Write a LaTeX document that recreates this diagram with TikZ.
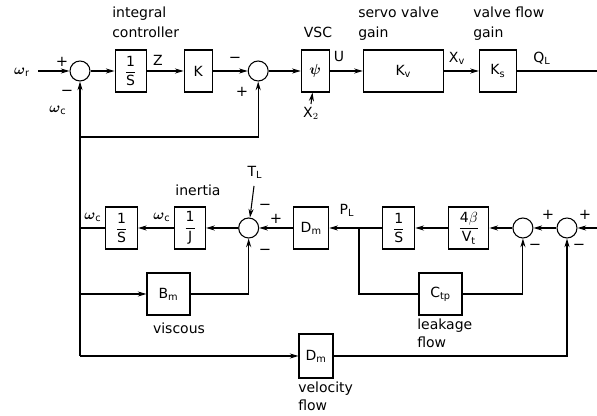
\documentclass[tikz,border=0pt]{standalone}
\usepackage{amsmath,amssymb}
\usepackage{fontspec}
\setmainfont{DejaVu Sans}
\usepackage{tikz}
\usetikzlibrary{positioning,arrows.meta,calc}

\begin{document}
\begin{tikzpicture}[x=0.75pt,y=-0.75pt,font=\fontsize{10.5}{15}\selectfont,
  blk/.style={draw=black,line width=0.8pt,minimum height=31.5pt,inner sep=1pt,fill=white},
  sm/.style={draw=black,line width=0.8pt,circle,minimum size=15pt,inner sep=0pt},
  ar/.style={-{Stealth[length=6.5pt,width=3.8pt]},line width=0.8pt},
  ln/.style={line width=0.8pt},
  lb/.style={inner sep=0pt},
  sg/.style={inner sep=0pt,font=\fontsize{11}{11}\selectfont},
  captxt/.style={inner sep=0pt,align=left,anchor=north west,font=\fontsize{10.5}{13.5}\selectfont}]
  \useasboundingbox (0,0) rectangle (597,416);
  % forward path: controller, VSC, valve
  \node[sm] (s1) at (80,71) {};
  \node[blk,minimum width=23.25pt,right=18pt of s1] (int) {$\dfrac{\text{1}}{\text{S}}$};
  \node[blk,minimum width=21pt,right=27.75pt of int] (k) {K};
  \node[sm,right=26.25pt of k] (s2) {};
  \node[blk,minimum width=21pt,right=24pt of s2] (vsc) {$\boldsymbol{\psi}$};
  \node[blk,minimum width=60pt,right=24.75pt of vsc] (kv) {K$_\text{v}$};
  \node[blk,minimum width=27.75pt,right=26.25pt of kv] (ks) {K$_\text{s}$};
  % motor and load, right to left
  \node[sm] (s5) at (567,228) {};
  \node[sm,left=17.25pt of s5] (s4) {};
  \node[blk,minimum width=30pt,left=17.25pt of s4] (bv) {$\dfrac{\text{4}\beta}{\text{V}_\text{t}}$};
  \node[blk,minimum width=24pt,left=24.75pt of bv] (int2) {$\dfrac{\text{1}}{\text{S}}$};
  \node[blk,minimum width=26.25pt,left=39.75pt of int2] (dm) {D$_\text{m}$};
  \node[sm,left=25.5pt of dm] (s3) {};
  \node[blk,minimum width=23.25pt,left=24pt of s3] (inv) {$\dfrac{\text{1}}{\text{J}}$};
  \node[blk,minimum width=24pt,left=27pt of inv] (int3) {$\dfrac{\text{1}}{\text{S}}$};
  \node[blk,minimum width=32.25pt] (bm) at (168.5,294) {B$_\text{m}$};
  \node[blk,minimum width=32.25pt] (ctp) at (440.5,294) {C$_\text{tp}$};
  \node[blk,minimum width=25.5pt,minimum height=33pt] (dm2) at (316,356) {D$_\text{m}$};
  % captions
  \node[captxt,font=\fontsize{10.5}{15}\selectfont] (lint) at (112,7) {integral\\controller};
  \node[lb] (lvsc) at (318,32) {VSC};
  \node[captxt,font=\fontsize{10.5}{15}\selectfont] (lkv) at (358,7) {servo valve\\gain};
  \node[captxt,font=\fontsize{10.5}{15}\selectfont] (lks) at (473,7) {valve flow\\gain};
  \node[lb] (lin) at (198,190) {inertia};
  \node[lb] (lvis) at (179,328) {viscous};
  \node[captxt] (lleak) at (417,319) {leakage\\flow};
  \node[captxt] (lvel) at (298,382) {velocity\\flow};
  % signals
  \node[lb] (wr) at (22,72) {$\boldsymbol{\omega}_\text{r}$};
  \node[lb] (wc1) at (58,110) {$\boldsymbol{\omega}_\text{c}$};
  \node[lb] (z) at (158,60) {Z};
  \node[lb] (u) at (339,57) {U};
  \node[lb] (xv) at (457,58) {X$_\text{v}$};
  \node[lb] (ql) at (542,58) {Q$_\text{L}$};
  \node[lb] (x2) at (311,113) {X$_2$};
  \node[lb] (tl) at (255,172) {T$_\text{L}$};
  \node[lb] (wc2) at (93,217) {$\boldsymbol{\omega}_\text{c}$};
  \node[lb] (wc3) at (162,217) {$\boldsymbol{\omega}_\text{c}$};
  \node[lb] (pl) at (347,210) {P$_\text{L}$};
  \node[sg] (p1) at (62,62) {+};
  \node[sg] (m1) at (67,93) {−};
  \node[sg] (m2) at (235,60) {−};
  \node[sg] (p2) at (242,92) {+};
  \node[sg] (m3) at (265,207) {−};
  \node[sg] (p3) at (276,219) {+};
  \node[sg] (m4) at (265,252) {−};
  \node[sg] (p4) at (548,215) {+};
  \node[sg] (m5) at (535,247) {−};
  \node[sg] (p5) at (585,215) {+};
  \node[sg] (m6) at (579,247) {−};
  % free ends and branch points
  \coordinate (wrin) at (38,71);
  \coordinate (qout) at (597,71);
  \coordinate (x2in) at (311,104);
  \coordinate (tlin) at (254,186);
  \coordinate (qin) at (597,228);
  \coordinate (fb) at (80,137);
  \coordinate (fbend) at (80,356);
  \coordinate (plb) at (359,228);
  \draw[ar] (wrin) -- (s1); \draw[ar] (s1) -- (int); \draw[ar] (int) -- (k); \draw[ar] (k) -- (s2);
  \draw[ar] (s2) -- (vsc); \draw[ar] (vsc) -- (kv); \draw[ar] (kv) -- (ks); \draw[ln] (ks) -- (qout);
  \draw[ar] (x2in) -- (vsc);
  \draw[ar] (fb) -- (s1); \draw[ar] (fb) -| (s2); \draw[ln] (fb) -- (fbend);
  \draw[ar] (qin) -- (s5); \draw[ar] (s5) -- (s4); \draw[ar] (s4) -- (bv); \draw[ar] (bv) -- (int2);
  \draw[ar] (int2) -- (dm); \draw[ar] (dm) -- (s3); \draw[ar] (s3) -- (inv); \draw[ar] (inv) -- (int3);
  \draw[ln] (int3) -- (int3 -| fb);
  \draw[ar] (tlin) -- (s3);
  \draw[ar] (fb |- bm) -- (bm); \draw[ar] (bm) -| (s3);
  \draw[ln] (plb) |- (ctp); \draw[ar] (ctp) -| (s4);
  \draw[ar] (fbend) -- (dm2); \draw[ar] (dm2) -| (s5);
\end{tikzpicture}
\end{document}
